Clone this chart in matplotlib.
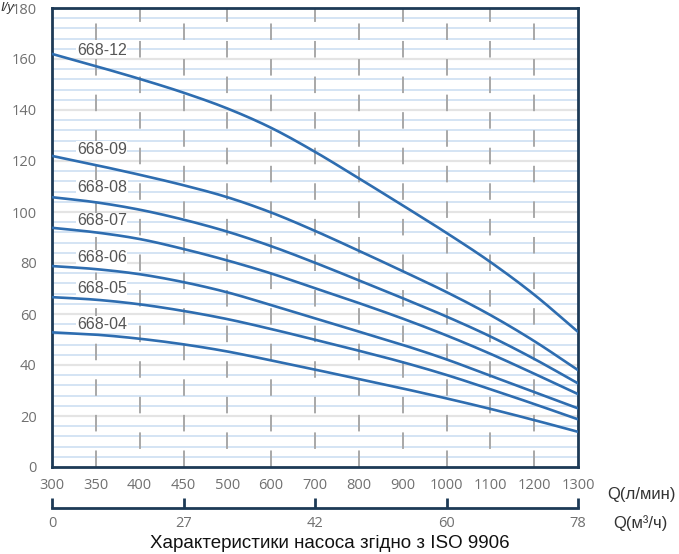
import matplotlib
matplotlib.use("Agg")
import matplotlib.pyplot as plt
import numpy as np

plt.rcParams['font.family'] = ['DejaVu Sans']

q_lmin_labels = ["300", "350", "400", "450", "500", "600", "700", "800", "900", "1000", "1100", "1200", "1300"]
q_m3h_labels = ["0", "27", "42", "60", "78"]
q_m3h_pos = [0, 3, 6, 9, 12]

series_names = ["668-12", "668-09", "668-08", "668-07", "668-06", "668-05", "668-04"]
h_668_12 = [162, 157.2, 152.2, 146.8, 140.6, 133, 123.6, 113.2, 102.6, 91.8, 80.4, 67.6, 53]
h_668_09 = [122, 118.4, 114.6, 110.5, 105.8, 99.8, 92.6, 84.8, 76.8, 68.6, 59.6, 49.4, 38]
h_668_08 = [105.8, 103.8, 100.9, 97, 92.3, 86.6, 80.1, 73.2, 66.2, 59, 51.2, 42.4, 32.8]
h_668_07 = [93.8, 92, 89.4, 85.5, 81, 75.9, 70.1, 64.3, 58.2, 51.6, 44.4, 36.6, 28.6]
h_668_06 = [78.8, 77.6, 75.6, 72.5, 68.5, 63.5, 58.3, 53.1, 47.9, 42.2, 35.8, 29.4, 23]
h_668_05 = [66.6, 65.6, 63.8, 61.2, 58, 54.1, 49.9, 45.6, 41.1, 36.1, 30.5, 24.7, 18.7]
h_668_04 = [52.8, 51.9, 50.3, 48.1, 45.3, 41.8, 38.2, 34.5, 30.8, 26.9, 22.8, 18.4, 13.8]
all_series = [h_668_12, h_668_09, h_668_08, h_668_07, h_668_06, h_668_05, h_668_04]
label_y = [163.5, 124.5, 109.5, 96.5, 82, 70, 56]

navy = "#1d3a56"
curve_c = "#2e6db0"
gray_txt = "#707070"
tick_font = ['Open Sans', 'DejaVu Sans']
arial = ['Liberation Sans', 'DejaVu Sans']


def smooth(xs, ys, n=20):
    # Catmull-Rom rendering of the line through the read points
    xs = np.asarray(xs, float)
    ys = np.asarray(ys, float)
    px = np.concatenate([[2 * xs[0] - xs[1]], xs, [2 * xs[-1] - xs[-2]]])
    py = np.concatenate([[2 * ys[0] - ys[1]], ys, [2 * ys[-1] - ys[-2]]])
    ox, oy = [], []
    for k in range(1, len(px) - 2):
        t = np.linspace(0, 1, n, endpoint=False)
        for P, out in ((px, ox), (py, oy)):
            p0, p1, p2, p3 = P[k - 1], P[k], P[k + 1], P[k + 2]
            out.extend(0.5 * (2 * p1 + (-p0 + p2) * t + (2 * p0 - 5 * p1 + 4 * p2 - p3) * t ** 2
                              + (-p0 + 3 * p1 - 3 * p2 + p3) * t ** 3))
    ox.append(xs[-1])
    oy.append(ys[-1])
    return np.array(ox), np.array(oy)


fig = plt.figure(figsize=(6.79, 5.54), dpi=100)
W, H = 679, 554
l, r, t, b = 52, 578, 8, 467
ax = fig.add_axes([l / W, (H - b) / H, (r - l) / W, (b - t) / H])

x = np.arange(len(q_lmin_labels))
ax.set_xlim(0, 12)
ax.set_ylim(0, 180)

# horizontal grid
for yv in np.arange(4, 180, 4):
    ax.axhline(yv, color="#cddff2", lw=1.2, zorder=1)
for yv in np.arange(20, 180, 20):
    ax.axhline(yv, color="#e4e4e4", lw=1.6, zorder=1)

# dashed verticals
for i in range(1, 12):
    off = 0 if i % 2 else 9
    ax.plot([i, i], [0, 180], color="#a8a8a8", lw=1.4,
            linestyle=(off, (8.5, 9.8)), dash_capstyle='butt', zorder=2)

for name, ys, ly in zip(series_names, all_series, label_y):
    sx, sy = smooth(x, ys)
    ax.plot(sx, sy, color=curve_c, lw=1.9, zorder=4)
    ax.text(0.57, ly, name, fontsize=11.5, color="#555555", va="center", ha="left", zorder=5,
            family=arial, bbox=dict(facecolor="white", edgecolor="none", pad=0.5))

for s in ax.spines.values():
    s.set_color(navy)
    s.set_linewidth(2)

ax.set_xticks(x)
ax.set_xticklabels(q_lmin_labels, family=tick_font)
ax.set_yticks(np.arange(0, 181, 20))
ax.set_yticklabels([str(v) for v in range(0, 181, 20)], family=tick_font)
ax.tick_params(axis='both', length=0, labelsize=10.5, labelcolor=gray_txt, pad=8)
ax.tick_params(axis='y', pad=11)

fig.text(607 / W, 1 - 494 / H, "Q(л/мин)", fontsize=12, color="#333333", va="center", ha="left",
         family=arial)

# second axis (m3/h)
ax2 = fig.add_axes([l / W, (H - 508) / H, (r - l) / W, 0.0001])
ax2.set_xlim(0, 12)
for k in ['top', 'left', 'right']:
    ax2.spines[k].set_visible(False)
ax2.spines['bottom'].set_color(navy)
ax2.spines['bottom'].set_linewidth(2)
ax2.set_yticks([])
ax2.set_xticks(q_m3h_pos)
ax2.set_xticklabels(q_m3h_labels, family=tick_font)
ax2.tick_params(axis='x', direction='in', length=7, width=2, color=navy, labelsize=10.5,
                labelcolor=gray_txt, pad=6)
ax2.patch.set_visible(False)

fig.text(613 / W, 1 - 523 / H, "Q(м³/ч)", fontsize=12, color="#333333", va="center", ha="left",
         family=arial)
fig.text(330 / W, 1 - 544 / H, "Характеристики насоса згідно з ISO 9906", fontsize=13.5,
         color="#111111", va="center", ha="center", family=arial)
fig.text(0.0, 1 - 8 / H, "I/y", fontsize=9.5, style="italic", color="#333333", va="center",
         ha="left", family=arial)

fig.savefig("out.png", dpi=100)
